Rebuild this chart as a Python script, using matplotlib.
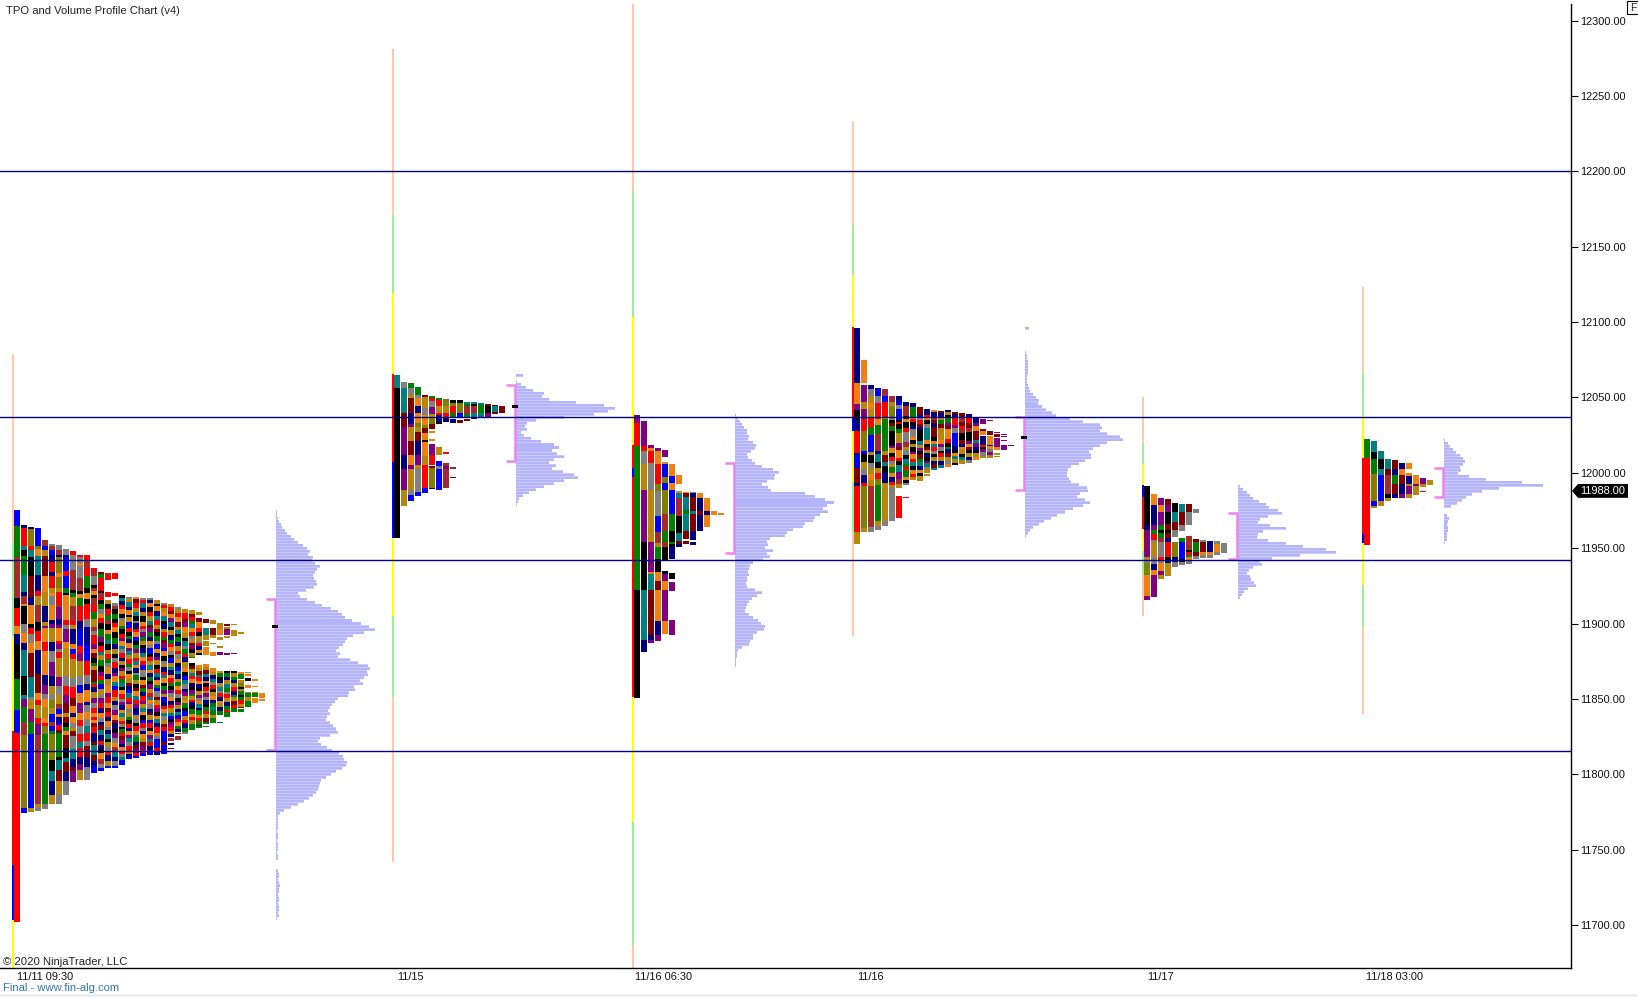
import matplotlib
matplotlib.use("Agg")
import matplotlib.pyplot as plt
from matplotlib.patches import Polygon, Rectangle

plt.rcParams["font.family"] = ["Liberation Sans", "DejaVu Sans"]

WIDTH, HEIGHT = 1638, 997
AXIS_RIGHT, AXIS_TOP, AXIS_BOTTOM = 1571, 4, 968
PRICE_MIN, PRICE_MAX = 11671.4, 12311.1

PRICE_TICKS = [12300, 12250, 12200, 12150, 12100, 12050, 12000, 11950, 11900, 11850, 11800, 11750, 11700]
LEVELS = [12200, 12036.8, 11941.9, 11815.1]
LAST_PRICE = 11988.0
TIME_LABELS = ["11/11 09:30", "11/15", "11/16 06:30", "11/16", "11/17", "11/18 03:00"]
TIME_SLOTS = [45, 410, 664, 870, 1160, 1395]

COLORS = {
    "r": "#ff0000", "b": "#0000ff", "g": "#008000", "k": "#000000", "n": "#000080",
    "m": "#800000", "o": "#808000", "t": "#008080", "p": "#800080", "y": "#808080",
    "e": "#f08010", "d": "#b8860b", "w": "#a52a2a",
}
PEACH, LIME, YEL = "#ffc8ae", "#98f098", "#ffff00"

# session range strips: colour, top price, bottom price
RANGE_1 = [(PEACH, 12078.8, 11953.4), (LIME, 11953.4, 11891), (YEL, 11891, 11828.7),
           ("#ff0000", 11828.7, 11739.7), ("#0000ff", 11739.7, 11703.2), (YEL, 11703.2, 11671.4)]
RANGE_2 = [(PEACH, 12281.2, 12171.7), (LIME, 12171.7, 12119.3), (YEL, 12119.3, 12065.5),
           ("#ff0000", 12065.5, 12007.1), ("#0000ff", 12007.1, 11956.7), (YEL, 11956.7, 11904.7),
           (LIME, 11904.7, 11850.5), (PEACH, 11850.5, 11741.7)]
RANGE_3 = [(PEACH, 12311, 12187), (LIME, 12187, 12103.3), (YEL, 12103.3, 12018.4),
           ("#ff0000", 12018.4, 12003.1), ("#0000ff", 12003.1, 11997.2), ("#ff0000", 11997.2, 11851.2),
           (YEL, 11851.2, 11768.2), (LIME, 11768.2, 11685.9), (PEACH, 11685.9, 11671.4)]
RANGE_4 = [(PEACH, 12233.4, 12164.4), (LIME, 12164.4, 12131.2), (YEL, 12131.2, 12096.7),
           ("#ff0000", 12096.7, 12037), ("#0000ff", 12037, 12027.7), (YEL, 12027.7, 11993.8),
           (LIME, 11993.8, 11960), (PEACH, 11960, 11891.7)]
RANGE_5 = [(PEACH, 12050.3, 12019.7), (LIME, 12019.7, 12005.8), (YEL, 12005.8, 11991.9),
           ("#0000ff", 11991.9, 11983.9), ("#ff0000", 11983.9, 11962.7), (YEL, 11962.7, 11948.1),
           (LIME, 11948.1, 11932.1), (PEACH, 11932.1, 11904.7)]
RANGE_6 = [(PEACH, 12123.2, 12066.2), (LIME, 12066.2, 12037.7), (YEL, 12037.7, 12009.8),
           ("#ff0000", 12009.8, 11959.3), ("#0000ff", 11959.3, 11953.4), (YEL, 11953.4, 11925.5),
           (LIME, 11925.5, 11897.7), (PEACH, 11897.7, 11839.9)]

# TPO columns: top price, bottom price, cells as colour code + relative size ("." is a gap)
P1_TOPS = [11975.3, 11965.3, 11964, 11963.3, 11955.4, 11952.7, 11952, 11949.4, 11948.1, 11945.4, 11945.4, 11936.8,
           11934.1, 11933.5, 11933.5, 11918.9, 11917.5, 11917.5, 11916.9, 11916.9, 11915.5, 11913.5, 11912.9, 11910.9,
           11909.6, 11908.9, 11907.6, 11902.9, 11902.3, 11900.3, 11899.6, 11899.6, 11894.3, 11867.8, 11863.1, 11853.8]
P1_BOTTOMS = [11701.9, 11774.2, 11774.9, 11775.5, 11776.8, 11780.2, 11780.2, 11786.1, 11794.8, 11796.1, 11796.1, 11800.7,
              11802.1, 11804.1, 11804.1, 11806, 11810, 11810.7, 11812, 11812.7, 11812.7, 11813.3, 11816.7, 11822.7,
              11826.7, 11829.3, 11830.7, 11831.3, 11833.9, 11833.9, 11837.9, 11841.2, 11841.2, 11844.5, 11847.2, 11848.5]
P1_CELLS = [
    "b48 g92 w125 k30 r53 e25 n29 k103 g95 b68 r567",
    "n8 r55 t12 k20 g58 t50 n15 w22 e8 k54 y28 e29 n23 t78 k60 t10 p27 g45 w38 o225 b15",
    "n6 o51 r12 t20 k58 m65 n22 e60 k10 r18 y29 e28 m73 t60 y10 d27 p40 g35 b225 d12",
    "b54 o12 e20 t58 n50 r15 d27 w55 k28 r29 e28 n73 m60 e22 r15 d40 r18 p35 w212 d13 y10",
    "w17 b13 d20 m60 e50 d40 n50 d12 p8 e40 r30 e73 n30 p27 y15 e25 d35 e13 r10 o25 g212 y17",
    "y5 w13 b15 n20 r33 n10 r37 d15 e10 y28 e44 n13 p12 d43 n25 y35 p43 n30 d27 y15 o25 d17 b25 w12 b14 g11 o77 k35 t30 n43 d27",
    "y15 w15 n7 o48 e10 o35 d12 r38 w8 p37 n17 p10 e38 r10 p15 y10 r17 d56 p30 y27 d25 w15 b17 e9 n14 b10 r14 m11 g72 k8 t32 m33 d40 y29",
    "y18 n7 b43 r15 b37 g13 k7 e75 r15 y13 p40 e17 d86 y30 r30 p22 m32 d13 m18 k10 g14 e11 m39 k33 t10 m30 n30 y42",
    "r12 y45 w58 k9 g13 d27 w45 r13 d12 n43 e15 b15 r15 d58 y27 r30 m25 e20 n12 e18 y17 d7 m16 y37 t30 n25 m12 p33",
    "r7 y18 e10 y35 w42 k10 e10 g25 r47 n25 b53 r20 p25 d48 y27 b25 e30 p32 e23 r17 y25 r26 t17 r30 n20 p20 d30",
    "r15 w25 r25 g37 k13 e20 k15 r47 y25 n53 b50 r43 y27 n20 e35 n10 y20 e22 y23 t20 r25 y15 m35 n30 y10 y30",
    "r10 w15 y30 k7 w10 e13 k10 w18 r25 g23 d27 w13 y12 r28 p17 e13 m15 k15 g10 d12 m38 g8 r10 n15 d20 p15 y15 r15 e14 r8 e10 m12 r20 n28 m12 t30 m20 n15 b23",
    "m5 g8 r32 k6 w8 r8 k10 g12 y12 e8 r14 k14 g18 p12 k10 r14 t8 d12 g14 k14 p10 r10 g10 b12 d14 y8 p12 r12 n10 e12 y10 n8 m12 t12 n14 r10 n10 k8 e14 w12 y10 b8",
    "w5 r12 .28 r10 .8 d10 k10 r14 g12 w10 k14 e10 g14 t10 k12 d10 r12 g10 y8 e16 n12 d14 e20 p8 r14 e12 m10 r12 n8 e14 y8 n10 t10 k8 d12 y10 r8 n14 d12 b5",
    "r12 .32 r5 .15 y8 w6 k10 g12 k8 r10 e10 k12 g14 n10 d12 k8 y10 r12 n10 p8 e12 t8 b10 r14 d10 n8 y12 p10 e10 m8 n12 k8 p12 y10 e10 w8 t14 n8 y10 b5",
    "k8 t12 n10 r14 e16 k12 y10 d14 g10 k16 r12 p10 e14 t10 y12 r16 n10 d12 k10 p10 d16 r8 g12 t14 k10 e12 r16 y10 p8 n14 e12 t10 d14 r10 y8 k6 g12 r10 m12 p14 n8 e14 r10 y8 t10 b16",
    "y6 d8 t14 n10 e12 k8 d14 b16 r10 k12 g8 n14 e12 p10 t12 d10 r14 g8 y12 k10 e10 d14 m10 n12 b8 t14 r10 p8 e14 y10 d12 g8 k12 r10 n10 e12 p8 t10 y12 r14 d8 n10 b6",
    "e6 m10 r14 d12 t10 k14 y8 n16 r8 e14 b12 k10 g12 p10 d14 r8 t12 e10 n12 y8 g14 d10 k12 m8 e14 t10 r12 p10 n14 b8 d10 y12 k8 r14 e10 t8 g12 n10 m10 p12 r8 b6",
    "y6 r8 t14 n12 d10 k16 e12 r8 y10 p14 g10 d12 k8 n14 t10 e12 r10 b14 d8 y12 k10 e14 m8 g12 n10 r14 p8 d12 t10 e10 k12 b8 r14 y10 n8 e12 d10 m12 p10 r8 b10",
    "y6 n8 e12 k14 r10 d14 t12 m8 p10 g14 n10 e12 y8 b16 k10 r12 d10 t14 e8 n12 g10 k8 p14 d12 r10 t8 e12 y14 n10 m8 d12 b10 r14 k8 e10 p12 t8 r12 n10 b14",
    "d10 k6 e14 n12 t10 r14 d12 m8 k10 g12 y8 b14 e10 n12 p8 d14 k10 r10 t12 n8 e12 g10 b8 y14 m10 d12 r8 p10 k12 e8 t10 n12 r14 d8 y10 b22 r8 n12",
    "y6 r8 d10 e12 t12 k8 n14 d10 r12 g8 m10 p12 b10 e12 k14 y8 d10 n12 r8 t10 e14 k8 g10 p12 d8 b14 n10 r8 e12 t8 y10 d12 m8 r10 b30 m10 b24",
    "d8 r10 m8 e12 p10 t12 k8 d14 n12 g10 r8 e12 y10 k8 b14 d10 t8 n12 e10 r12 g8 k10 p8 y12 e10 n10 r8 d12 t8 b10 k8 p12 r10 d8 n8 .4 w8 .4 n5 .8 m3",
    "y4 d10 r10 e14 m12 d8 t10 k8 g12 n10 d12 r8 y14 e10 k8 b10 t8 n12 d10 g8 e12 r8 y10 k10 p8 d10 n8 t8 b10 r8 e10 g8 n8 .2 m3 .4 w10",
    "d10 r12 m8 p10 e14 d12 k8 t10 y8 g10 r8 n12 d14 e8 k10 b8 t10 y10 n8 p8 d10 e8 g10 k8 b12 d8 r8 n10 g10 y4",
    "d12 m8 r14 g8 t12 e14 r10 y10 d12 m8 p10 k12 d12 g5 .15 k8 m10 d12 t10 r8 e14 n10 k10 p12 g8 d10 r8 n12 k10 g14 e10 r8 d11 g20",
    "d9 .10 m12 e16 r14 k10 d14 y8 r8 n12 e10 k6 .28 e10 d8 m12 t8 r10 e10 n12 k8 d12 p10 y8 e10 t10 n8 g14 d10 r8 g12 k4 g5",
    "m12 .15 t20 d15 .5 d15 .2 e12 e13 .28 e8 d10 m10 t10 n12 e8 k10 r12 d8 p10 y10 n12 k10 g12 r8 d12 m12 g8 .5 g3",
    "d12 .13 m20 d10 .13 d4 .23 e12 .36 e12 d10 n12 t10 y8 r12 k10 d12 e10 n10 g12 t10 g14 d10 g15",
    "d19 e18 .4 d10 .18 d6 .12 p11 .47 e6 g12 k8 n12 d10 t12 y8 r10 n12 e8 d10 n12 g14 .20 g4",
    "m6 .2 d7 .1 p17 .3 d7 .43 p5 .50 k5 g12 n10 d12 t10 g12 y8 r10 d12 n12 g12 r8 g14",
    "d4 .14 d18 .51 p4 .52 k6 d10 g10 n10 d10 r12 n12 g8 d10 m12 r12 g11",
    "d7 .115 e6 g14 .4 d8 o12 k6 d8 g12 k4 g10 r12 d8 m6 .3 g8",
    "e4 .1 e6 .7 k10 .10 e10 .10 d5 g12 d10 g10 g9",
    "e6 .15 e4 .16 d3 g14 .4 e15",
    "e17 .5 e6",
]

P2_TOPS = [12064.8, 12060.2, 12059.5, 12056.9, 12051.6, 12050.9, 12049.6, 12048.9, 12048.3, 12048.3, 12046.9, 12046.9, 12046.3, 12045.6, 12044.9, 12044.3]
P2_BOTTOMS = [11956.7, 11977.9, 11981.2, 11984.6, 11986.6, 11989.2, 11988.5, 11989.9, 11996.5, 12033, 12034.3, 12035.7, 12036.3, 12037, 12039, 12039.7]
P2_CELLS = [
    "t38 k451",
    "y17 t77 m40 p85 n42 p63 d48",
    "g15 y21 d8 m47 n32 p10 d41 m42 e30 p12 d63 y15 b18",
    "g24 y10 e23 n22 e30 o12 d13 m28 n42 p30 d12 y68 b13",
    "m5 d33 y22 e30 o10 m15 e23 k5 e42 d30 r12 r58 b14",
    "g7 r7 y18 p22 d15 o15 m13 .7 e6 .17 e8 .9 p31 r30 .2 m8 o58 n4",
    "g6 r18 d22 r5 n20 k7 .70 d23 .18 b15 y10 b63",
    "o20 d22 r15 n12 .87 r8 .25 w10 p7 w58",
    "k10 o8 r22 g15 .3 n12 .130 w7 .23 m3",
    "k10 o28 b14 .6 m10",
    "t6 g6 w22 g12 .3 m7",
    "t6 k5 w20 t14 n3",
    "t5 g23 t12 n4",
    "m6 k20 p14",
    "m3 t19 m5",
    "m20",
]

P3_TOPS = [12038.3, 12034.3, 12018.4, 12016.4, 12015.1, 12005.8, 11998.5, 11987.2, 11987.2, 11986.6, 11983.2, 11974.6, 11973.3]
P3_BOTTOMS = [11850.5, 11881, 11887, 11888.3, 11893, 11892.3, 11950.7, 11952.7, 11952, 11961.3, 11964, 11971.9, 11971.9]
P3_CELLS = [
    "p23 r69 g433 k323",
    "p74 r16 y37 d80 p155 k145 t150 n35",
    "p10 e8 r37 y80 d155 p92 e5 t48 m135 n15 p10",
    "p10 e37 r60 o20 y73 b50 w32 d10 g37 k37 e28 m25 e93 n42 p18",
    "p22 .14 e6 b38 o20 b20 o73 w50 g32 w15 k40 .33 k9 p23 e25 p93 e40",
    "e36 b22 e20 b73 g50 k32 g7 k8 n37 .41 k20 .7 p27 .88 p45",
    "e27 .18 e8 t15 w50 k50 t24 m8 n10",
    "e3 m13 t37 g13 t50 m24 .8 m8",
    "y3 n13 m40 t10 m50 n27 .5 n10",
    "e14 n40 m10 n49",
    "e39 n11 e38",
    "e12",
    "e6",
]

P4_TOPS = [12096, 12074.8, 12058.2, 12056.2, 12055.6, 12050.9, 12050.9, 12046.9, 12046.3, 12043.7, 12042.3, 12041.7,
           12041, 12041.7, 12040.3, 12039.7, 12039, 12037, 12035.7, 12035, 12027, 12025.7, 12018.4]
P4_BOTTOMS = [11952.7, 11960.7, 11960.7, 11962, 11964.7, 11968, 11970, 11983.2, 11995.2, 11994.5, 11997.8, 12001.8,
              12003.1, 12003.8, 12005.1, 12005.8, 12006.5, 12008.4, 12009.8, 12009.8, 12010.4, 12015.1, 12017.7]
P4_CELLS = [
    "n165 e62 p18 k30 n35 r65 n7 b38 m44 n10 r139 d36",
    "e68 .7 p53 d19 p31 r37 o60 b10 k25 d20 y17 n25 r10 o128 d11",
    "n12 y21 d20 e19 d28 r25 g25 b51 d9 k25 y15 d17 e18 d17 w123 y16",
    "n2 b21 y20 r47 e20 g25 w51 n9 t25 k17 d15 r18 o17 g106 d15 y12",
    "w21 b20 r47 d5 g45 g51 d14 m20 t15 k17 n35 d10 d106 y15",
    "w20 d10 o37 y7 k10 m10 g14 k50 p5 e15 k13 r12 y10 d10 g17 e15 n13 r10 d8 y106",
    "n17 b13 y10 b37 k5 r8 k15 g12 d33 p14 m8 e25 r10 k15 t20 p25 w15 d12 .25 r72",
    "n12 w32 k8 e10 k18 r12 y33 w15 d10 y15 k12 t15 g10 r10 g20 e10 k8 y8 .37 r3",
    "k3 n10 g29 e8 r10 k12 n8 y25 e10 k12 d10 k15 p8 e13 r12 t10 k15 e12 r10 d8",
    "m23 n7 y8 r12 m10 n8 k33 t12 d10 p8 k10 m15 g8 t12 n12 e10 k8 d15",
    "n18 r7 e8 k10 y12 t35 e12 k10 m8 d10 n12 k10 p8 t10 y8 d10 .3 d7",
    "e5 n15 w10 m10 n12 m30 k10 e10 t10 r12 y8 k10 d12 n8 m12 t6",
    "m5 n15 d8 g10 m12 d38 e12 p10 y10 k8 r12 d10 n12 t11",
    "n6 d10 k8 g15 p10 m8 e30 r12 k10 g8 n10 m12 d12 y9 e10",
    "m6 n12 r18 p10 y12 b38 n10 k10 e8 t8 d10 k7",
    "m12 k3 w15 m10 r10 w12 k25 m10 n12 e8 d14 k10 t7 d14",
    "n10 b2 r18 m14 w12 k30 p10 e10 m8 k10 d12 n10 y10",
    "n18 p10 e12 m28 t10 p12 n10 k8 d10 e10",
    "p16 .16 m8 e12 .3 n28 r8 k5 p12 y12 d7",
    "p3 .30 m12 .3 e28 k3 e8 y10 p10 d8",
    "p4 .3 m8 .3 p28 e10 .10 d6 .3 d4",
    "p3 .4 p3 .6 p5 .12 p14",
    "p3",
]

P5_TOPS = [11991.2, 11985.9, 11983.2, 11982.6, 11979.9, 11979.2, 11979.2, 11975.9, 11955.4, 11954.7, 11954.7, 11953.4]
P5_BOTTOMS = [11915.5, 11917.5, 11929.5, 11931.5, 11937.4, 11938.8, 11939.4, 11942.7, 11943.4, 11943.4, 11945.4, 11946.7]
P5_CELLS = [
    "k117 n15 p80 d10 y10 o35 e62 p13",
    "e33 n60 p15 g10 r18 y7 d45 y20 n20 e15 p65",
    "p21 e20 p40 g15 k10 g15 w10 y47 r8 y10 e22 p13 d12",
    "m18 p20 k37 m18 k8 m17 n10 r47 k8 n10 d38",
    "k25 t30 m25 y22 .13 o45 n15 y15",
    "t22 m30 m10 y17 .20 g13 b50 k7 y10",
    "m23 y43 .32 w45 k5 r10 g5 e10 y13",
    "y11 .80 m7 g30 m13 y9",
    "y7 m28 e8 y10",
    "n33 e10 y8",
    "y9 e25 y10",
    "y31",
]

P6_TOPS = [12022.4, 12021.1, 12014.4, 12009.1, 12008.4, 12006.5, 12006.5, 11998.5, 11996.5, 11995.2]
P6_BOTTOMS = [11952, 11976.6, 11977.9, 11981.2, 11983.2, 11983.2, 11983.2, 11985.2, 11987.2, 11991.9]
P6_CELLS = [
    "g57 r261",
    "t32 k22 g45 o81 b15 d6",
    "t24 k31 t17 b78 d15",
    "t29 m19 w57 k11 d10",
    "m26 n19 g27 m30 n11",
    "n17 e18 m27 n30 p11",
    "e17 .13 e8 n24 d6 p24 d11",
    "e27 p6 d27",
    "p17 d8 .12 r4",
    "d15",
]

# volume profiles, one value per 2 points going down from the top price
P1_VOL_TOP = 11974
P1_VOL = [1, 1, 2, 3, 5, 6, 9, 11, 15, 18, 22, 27, 31, 34, 32, 37, 36, 39, 44, 41, 39, 37, 38, 40, 41, 38, 30, 22, 24, 31,
          39, 46, 55, 62, 66, 69, 76, 85, 93, 99, 88, 77, 71, 69, 67, 63, 60, 64, 62, 74, 82, 92, 94, 91, 92, 88, 84, 87,
          78, 79, 73, 72, 62, 59, 56, 54, 52, 54, 51, 50, 54, 57, 60, 62, 54, 44, 42, 45, 51, 56, 63, 67, 68, 71, 70, 66,
          60, 55, 50, 45, 44, 43, 42, 40, 37, 33, 28, 22, 15, 8, 4, 2, 2, 2, 2, 2, 1, 2, 2, 1, 2, 2, 2, 1, 2, 2, 0, 0, 0,
          2, 3, 3, 2, 3, 4, 3, 3, 2, 3, 3, 2, 3, 3, 2, 3, 1]
P2_VOL_TOP = 12064.8
P2_VOL = [7, 0, 1, 5, 10, 17, 28, 26, 33, 60, 88, 99, 92, 78, 48, 20, 11, 9, 11, 5, 8, 15, 25, 38, 43, 36, 41, 48, 38, 33,
          40, 36, 47, 58, 62, 48, 38, 28, 20, 13, 7, 3, 2, 1]
P3_VOL_TOP = 12038.3
P3_VOL = [1, 3, 5, 7, 9, 12, 12, 14, 13, 18, 21, 20, 16, 12, 13, 17, 20, 27, 38, 44, 40, 39, 32, 27, 33, 36, 70, 80, 90, 99,
          92, 88, 93, 85, 80, 78, 70, 68, 58, 52, 50, 35, 32, 33, 30, 38, 32, 35, 28, 18, 15, 14, 13, 14, 12, 12, 11, 12,
          20, 27, 22, 17, 14, 12, 11, 10, 14, 18, 23, 26, 30, 29, 22, 18, 18, 15, 14, 7, 3, 2, 2, 1, 1, 1]
P4_VOL_TOP = 12096
P4_VOL = [4, 0, 0, 0, 0, 0, 0, 0, 1, 2, 2, 3, 3, 3, 3, 3, 2, 2, 2, 3, 4, 5, 8, 11, 14, 13, 17, 21, 27, 31, 45, 58, 75, 77,
          75, 82, 95, 98, 82, 75, 68, 64, 66, 66, 60, 54, 46, 43, 42, 42, 44, 46, 54, 62, 63, 55, 52, 60, 65, 58, 48, 40,
          32, 26, 19, 14, 8, 5, 3, 1]
P5_VOL_TOP = 11991.2
P5_VOL = [2, 5, 9, 12, 15, 21, 28, 31, 40, 44, 30, 22, 20, 32, 48, 25, 20, 19, 30, 48, 65, 88, 98, 62, 34, 22, 24, 15, 11,
          9, 12, 13, 16, 18, 10, 6, 4, 2]
P6_VOL_TOP = 12021.7
P6_VOL = [1, 4, 6, 9, 12, 16, 19, 21, 19, 16, 17, 14, 25, 42, 78, 99, 55, 38, 28, 22, 18, 13, 7, 0, 0, 3, 5, 4, 3, 4, 4, 3,
          3, 3, 1]

# value area ends and the black marker price of each session
VALUE_AREAS = [(11916.2, 11816), (12058.2, 12007.8), (12006.5, 11946.7), (12037, 11988.5), (11973.3, 11942.7), (12003.1, 11983.9)]
MARKERS = [11897.7, 12044.3, None, 12023.7, None, None]

SESSIONS = [
    (13, 276, RANGE_1, P1_TOPS, P1_BOTTOMS, P1_CELLS, P1_VOL_TOP, P1_VOL),
    (393, 516, RANGE_2, P2_TOPS, P2_BOTTOMS, P2_CELLS, P2_VOL_TOP, P2_VOL),
    (633, 735, RANGE_3, P3_TOPS, P3_BOTTOMS, P3_CELLS, P3_VOL_TOP, P3_VOL),
    (853, 1025, RANGE_4, P4_TOPS, P4_BOTTOMS, P4_CELLS, P4_VOL_TOP, P4_VOL),
    (1143, 1238, RANGE_5, P5_TOPS, P5_BOTTOMS, P5_CELLS, P5_VOL_TOP, P5_VOL),
    (1363, 1444, RANGE_6, P6_TOPS, P6_BOTTOMS, P6_CELLS, P6_VOL_TOP, P6_VOL),
]

TICK_SIZE = 7.9
TEXT_SIZE = 8.15
VOL_LIGHT = "#cacafd"
VOL_COLOR = "#b4b4fb"
BRACKET_COLOR = "#ee82ee"


def draw_column(ax, x, top, bottom, cells):
    tokens = [(c[0], float(c[1:])) for c in cells.split()]
    scale = (top - bottom) / sum(size for _, size in tokens)
    price = top
    for code, size in tokens:
        height = size * scale
        if code != ".":
            ax.bar(x, height, bottom=price - height, width=6, align="edge", color=COLORS[code], linewidth=0, zorder=3)
        price -= height


def draw_session(ax, session, value_area, marker):
    line_x, base, strips, tops, bottoms, cells, vol_top, vol = session
    for color, top, bottom in strips:
        ax.bar(line_x, top - bottom, bottom=bottom, width=2.4, color=color, linewidth=0, zorder=2)
    for i in range(len(cells)):
        draw_column(ax, line_x + 1 + 7 * i, tops[i], bottoms[i], cells[i])

    # lighter full-height row behind a slimmer one gives the faint stripes
    prices = [vol_top - 2 * i for i in range(len(vol))]
    ax.barh(prices, vol, left=base, height=2.0, color=VOL_LIGHT, linewidth=0, zorder=2)
    ax.barh(prices, vol, left=base, height=1.35, color=VOL_COLOR, linewidth=0, zorder=2)

    high, low = value_area
    ax.plot([base - 10, base - 1, base - 1, base - 10], [high, high, low, low], color=BRACKET_COLOR, lw=1.8,
            solid_joinstyle="miter", solid_capstyle="butt", zorder=4)
    if marker is not None:
        ax.bar(base - 4, 2, bottom=marker - 1, width=6, align="edge", color="black", linewidth=0, zorder=5)


def main():
    fig = plt.figure(figsize=(WIDTH / 100, HEIGHT / 100), dpi=100)
    ax = fig.add_axes([0, 1 - AXIS_BOTTOM / HEIGHT, AXIS_RIGHT / WIDTH, (AXIS_BOTTOM - AXIS_TOP) / HEIGHT])
    ax.set_xlim(0, AXIS_RIGHT)
    ax.set_ylim(PRICE_MIN, PRICE_MAX)

    for session, value_area, marker in zip(SESSIONS, VALUE_AREAS, MARKERS):
        draw_session(ax, session, value_area, marker)

    for level in LEVELS:
        ax.axhline(level, color="#000080", lw=1.0, zorder=6)

    for side in ("top", "left"):
        ax.spines[side].set_visible(False)
    ax.spines["right"].set_linewidth(1.0)
    ax.spines["bottom"].set_linewidth(1.0)

    ax.yaxis.tick_right()
    ax.set_yticks(PRICE_TICKS, [f"{p:.2f}" for p in PRICE_TICKS], fontsize=TICK_SIZE, color="#111111")
    ax.tick_params(axis="y", length=5, width=0.8, pad=1.5)
    ax.set_xticks(TIME_SLOTS, TIME_LABELS, fontsize=TICK_SIZE, color="#111111")
    ax.tick_params(axis="x", length=0, pad=3)

    # last price tag on the axis
    half = 4.6
    tag = Polygon([(AXIS_RIGHT + 1, LAST_PRICE), (AXIS_RIGHT + 7, LAST_PRICE + half), (AXIS_RIGHT + 57, LAST_PRICE + half),
                   (AXIS_RIGHT + 57, LAST_PRICE - half), (AXIS_RIGHT + 7, LAST_PRICE - half)],
                  closed=True, color="black", linewidth=0, clip_on=False, zorder=7)
    ax.add_patch(tag)
    ax.text(AXIS_RIGHT + 9, LAST_PRICE, f"{LAST_PRICE:.2f}", color="white", fontsize=TICK_SIZE, va="center", ha="left",
            clip_on=False, zorder=8)

    fig.text(6 / WIDTH, 1 - 11 / HEIGHT, "TPO and Volume Profile Chart (v4)", fontsize=TEXT_SIZE, color="#222222", va="center")
    fig.text(3 / WIDTH, 1 - 962 / HEIGHT, "\u00a9 2020 NinjaTrader, LLC", fontsize=TEXT_SIZE, color="#222222", va="center")
    fig.text(3 / WIDTH, 1 - 988 / HEIGHT, "Final - www.fin-alg.com", fontsize=TEXT_SIZE, color="#2e78b0", va="center")

    fig.add_artist(Rectangle((1627 / WIDTH, 1 - 14 / HEIGHT), 11 / WIDTH, 13 / HEIGHT, transform=fig.transFigure,
                             fc="white", ec="black", lw=0.8))
    fig.text(1633 / WIDTH, 1 - 8 / HEIGHT, "F", fontsize=7.5, color="#222222", ha="center", va="center")
    fig.add_artist(Rectangle((0, 0), 1, 3 / HEIGHT, transform=fig.transFigure, color="#eeeeee", linewidth=0))

    fig.savefig("out.png", dpi=100)


if __name__ == "__main__":
    main()
